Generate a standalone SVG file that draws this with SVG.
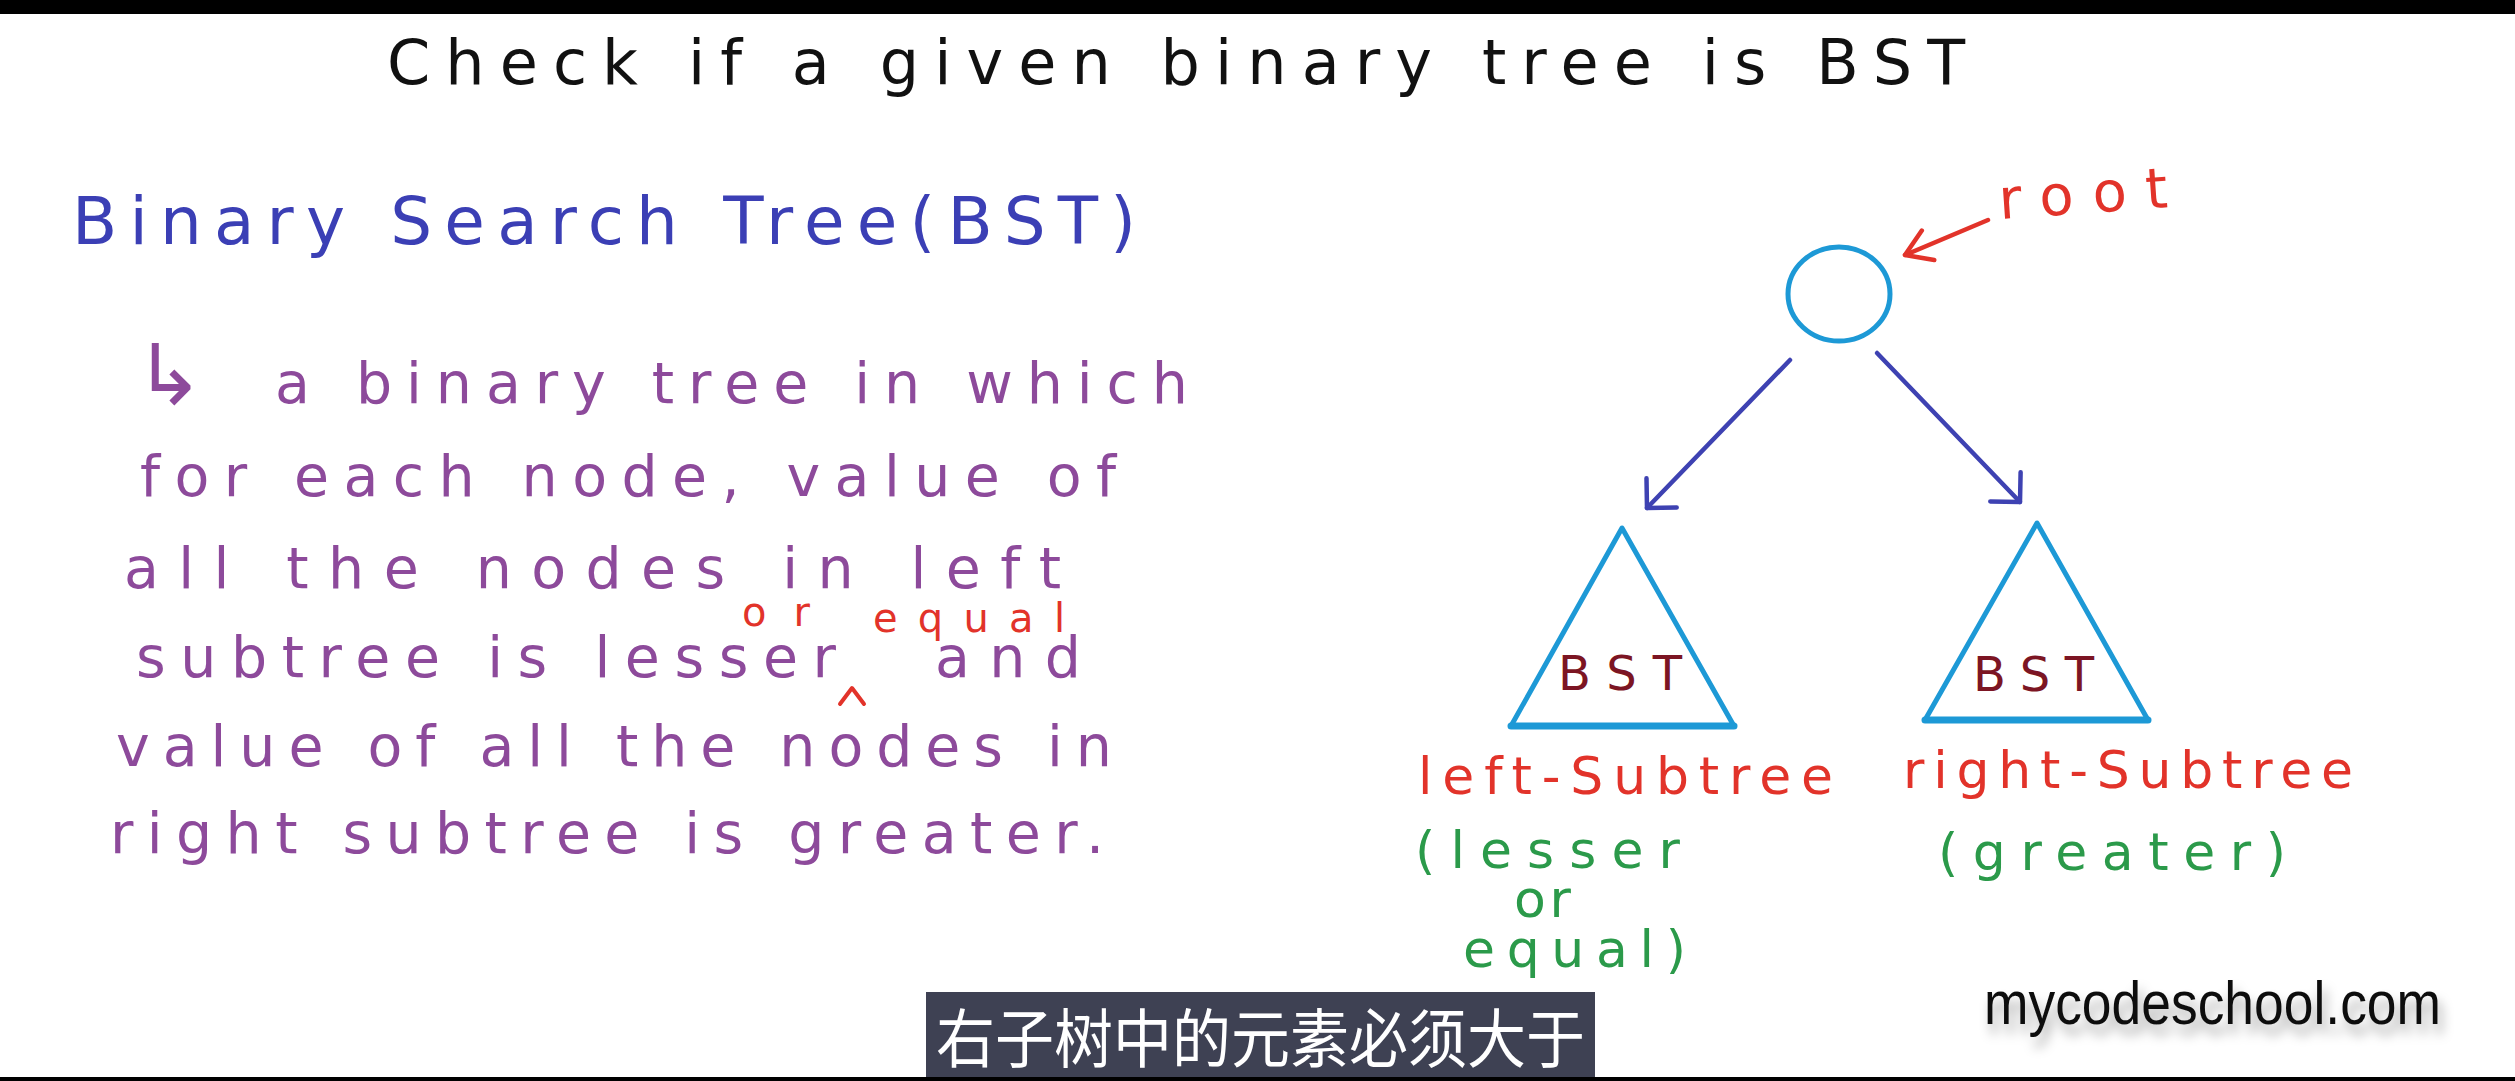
<svg xmlns="http://www.w3.org/2000/svg" width="2515" height="1081" viewBox="0 0 2515 1081">
<style>
  text { font-family: "DejaVu Sans", "Liberation Sans", sans-serif; }
  .title { font-size: 62px; fill: #111111; }
  .head { font-size: 66px; fill: #3b3fb5; }
  .def { font-size: 57px; fill: #8d4a9b; }
  .red { fill: #e2332a; }
  .green { fill: #2b9a4a; }
  .lbl { font-size: 52px; }
  .small { font-size: 40px; }
  .bst { font-size: 48px; fill: #7c1523; }
  .shape { fill: none; stroke: #1d99d6; stroke-width: 5; stroke-linejoin: round; }
  .base { stroke: #1d99d6; stroke-width: 7; stroke-linecap: round; }
  .edge { fill: none; stroke: #3e42b2; stroke-width: 4.5; stroke-linecap: round; }
  .rootarrow { fill: none; stroke: #e2332a; stroke-width: 4.5; stroke-linecap: round; }
  .sub { font-family: "Noto Sans CJK SC", "Noto Sans", sans-serif; font-size: 64px; fill: #ffffff; }
  .brand { font-family: "Liberation Sans", Arial, sans-serif; font-size: 62px; fill: #111111; }
</style>
<defs>
  <marker id="headBlue" markerUnits="userSpaceOnUse" markerWidth="40" markerHeight="50" refX="0" refY="0" viewBox="-30 -25 32 50" orient="auto">
    <path d="M -21 -21 L 0 0 L -21 21" fill="none" stroke="#3e42b2" stroke-width="4.5" stroke-linecap="round" stroke-linejoin="round"/>
  </marker>
  <marker id="headRed" markerUnits="userSpaceOnUse" markerWidth="40" markerHeight="50" refX="0" refY="0" viewBox="-30 -25 32 50" orient="auto">
    <path d="M -25 -16 L 0 0 L -25 16" fill="none" stroke="#e2332a" stroke-width="4.5" stroke-linecap="round" stroke-linejoin="round"/>
  </marker>
  <filter id="shadow" x="-10%" y="-30%" width="120%" height="180%">
    <feDropShadow dx="4" dy="10" stdDeviation="6" flood-color="#000000" flood-opacity="0.35"/>
  </filter>
</defs>

<rect x="0" y="0" width="2515" height="1081" fill="#ffffff"/>
<rect x="0" y="0" width="2515" height="14" fill="#000000"/>
<rect x="0" y="1077" width="2515" height="4" fill="#000000"/>

<g id="title">
  <text class="title" x="387" y="84" textLength="1578" lengthAdjust="spacing">Check if a given binary tree is BST</text>
</g>

<g id="definition">
  <text class="head" x="72" y="244" textLength="1064" lengthAdjust="spacing">Binary Search Tree(BST)</text>
  <text x="134" y="404" style="font-size:84px;fill:#8d4a9b">↳</text>
  <text class="def" x="275" y="403" textLength="913" lengthAdjust="spacing">a binary tree in which</text>
  <text class="def" x="140" y="496" textLength="976" lengthAdjust="spacing">for each node, value of</text>
  <text class="def" x="124" y="588" textLength="937" lengthAdjust="spacing">all the nodes in left</text>
  <text class="def" x="136" y="677" textLength="700" lengthAdjust="spacing">subtree is lesser</text>
  <text class="def" x="935" y="677" textLength="146" lengthAdjust="spacing">and</text>
  <text class="red small" x="742" y="626" textLength="68" lengthAdjust="spacing">or</text>
  <text class="red small" x="873" y="632" textLength="192" lengthAdjust="spacing">equal</text>
  <polyline points="840,704 852,688 864,704" fill="none" stroke="#e2332a" stroke-width="4" stroke-linecap="round" stroke-linejoin="round"/>
  <text class="def" x="116" y="766" textLength="996" lengthAdjust="spacing">value of all the nodes in</text>
  <text class="def" x="110" y="853" textLength="994" lengthAdjust="spacing">right subtree is greater.</text>
</g>

<g id="root">
  <ellipse class="shape" cx="1839" cy="294" rx="51" ry="47"/>
  <text class="red" x="2000" y="219" style="font-size:56px" textLength="169" lengthAdjust="spacing" transform="rotate(-4 2000 219)">root</text>
</g>

<g id="left-subtree">
  <polygon class="shape" points="1622,528 1511,726 1734,726"/>
  <line class="base" x1="1511" y1="726" x2="1734" y2="726"/>
  <text class="bst" x="1558" y="690" textLength="124" lengthAdjust="spacing">BST</text>
  <text class="red lbl" x="1418" y="794" textLength="415" lengthAdjust="spacing">left-Subtree</text>
  <text class="green lbl" x="1415" y="868" textLength="265" lengthAdjust="spacing">(lesser</text>
  <text class="green lbl" x="1514" y="917" textLength="57" lengthAdjust="spacing">or</text>
  <text class="green lbl" x="1463" y="967" textLength="223" lengthAdjust="spacing">equal)</text>
</g>

<g id="right-subtree">
  <polygon class="shape" points="2037,523 1925,720 2148,720"/>
  <line class="base" x1="1925" y1="720" x2="2148" y2="720"/>
  <text class="bst" x="1973" y="691" textLength="121" lengthAdjust="spacing">BST</text>
  <text class="red lbl" x="1903" y="788" textLength="450" lengthAdjust="spacing">right-Subtree</text>
  <text class="green lbl" x="1938" y="870" textLength="348" lengthAdjust="spacing">(greater)</text>
</g>

<g id="connectors">
  <line class="edge" x1="1790" y1="360" x2="1647" y2="508" marker-end="url(#headBlue)"/>
  <line class="edge" x1="1877" y1="353" x2="2020" y2="502" marker-end="url(#headBlue)"/>
  <line class="rootarrow" x1="1988" y1="220" x2="1905" y2="255" marker-end="url(#headRed)"/>
</g>

<g id="caption">
  <rect x="926" y="992" width="669" height="85" fill="#3e4153"/>
  <text class="sub" x="936" y="1062" textLength="649" lengthAdjust="spacingAndGlyphs">右子树中的元素必须大于</text>
</g>

<g id="brand">
  <text class="brand" x="1984" y="1024" textLength="457" lengthAdjust="spacingAndGlyphs" filter="url(#shadow)">mycodeschool.com</text>
</g>
</svg>
